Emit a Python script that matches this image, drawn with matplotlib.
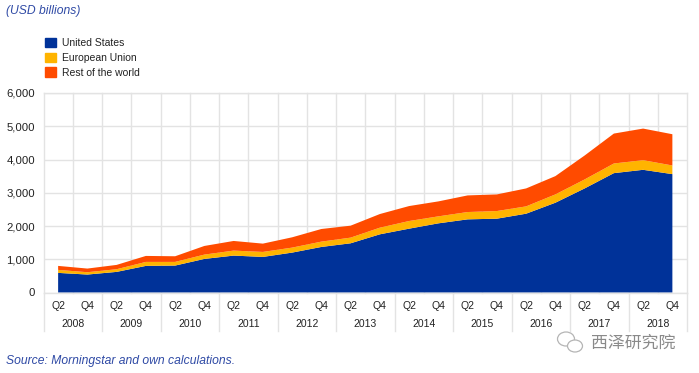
"""Quarterly stacked area of USD billions by region, 2008-2018."""
import matplotlib

matplotlib.use("Agg")
import matplotlib.pyplot as plt
import numpy as np
from matplotlib.patches import Ellipse, Patch

plt.rcParams["font.family"] = ["Liberation Sans", "Noto Sans CJK SC", "DejaVu Sans"]

quarters = ["Q2", "Q4"] * 11
years = ["2008", "2009", "2010", "2011", "2012", "2013", "2014", "2015", "2016", "2017", "2018"]
yticks = [0, 1000, 2000, 3000, 4000, 5000, 6000]

united_states = [590, 540, 620, 800, 810, 1010, 1110, 1070, 1200, 1370, 1480,
                 1750, 1920, 2080, 2200, 2220, 2370, 2700, 3130, 3590, 3690, 3560]
european_union = [90, 70, 80, 120, 110, 130, 150, 150, 150, 160, 170,
                  200, 230, 210, 220, 230, 220, 250, 270, 290, 290, 260]
rest_of_world = [120, 110, 130, 180, 170, 260, 290, 250, 310, 380, 360,
                 410, 450, 450, 500, 500, 540, 550, 720, 900, 950, 940]

BLUE = "#003299"
YELLOW = "#ffb400"
ORANGE = "#ff4b00"
GRID = "#e3e3e3"
NOTE = "#2f4aa5"
W, H = 699, 373

fig = plt.figure(figsize=(W / 100, H / 100), dpi=100)
ax = fig.add_axes([43.5 / W, 1 - 292.5 / H, 643.5 / W, 199.5 / H])

x = np.arange(len(quarters))
ax.stackplot(x, united_states, european_union, rest_of_world,
             colors=[BLUE, YELLOW, ORANGE], linewidth=0, zorder=3)

ax.set_xlim(-0.5, 21.5)
ax.set_ylim(0, 6000)
ax.set_yticks(yticks)
ax.set_yticklabels([f"{v:,}" for v in yticks], fontsize=8.2, color="#222222")
ax.tick_params(axis="y", length=0, pad=6)
ax.set_xticks(x)
ax.set_xticklabels(quarters, fontsize=7.5, color="#222222")
ax.tick_params(axis="x", length=0, pad=6)

for sp in ["top", "right", "left"]:
    ax.spines[sp].set_visible(False)
ax.spines["bottom"].set_color(GRID)
ax.spines["bottom"].set_linewidth(1.0)
ax.spines["bottom"].set_zorder(4)

ax.grid(axis="y", color=GRID, linewidth=1.0, zorder=0)
ax.set_axisbelow(True)
ax.axhline(6000, color=GRID, linewidth=1.0, clip_on=False, zorder=1)

# every category boundary inside the plot, year boundaries run down past the labels
trans = ax.get_xaxis_transform()
for edge in np.arange(-0.5, 22, 1):
    ax.plot([edge, edge], [0, 1], transform=trans, color=GRID, linewidth=1.0,
            clip_on=False, zorder=1)
for edge in np.arange(-0.5, 22, 2):
    ax.plot([edge, edge], [-0.195, 0], transform=trans, color=GRID, linewidth=1.0,
            clip_on=False, zorder=1)

for i, year in enumerate(years):
    ax.text(2 * i + 0.5, -0.158, year, transform=trans, ha="center", va="center",
            fontsize=7.5, color="#222222")

handles = [Patch(color=BLUE), Patch(color=YELLOW), Patch(color=ORANGE)]
fig.legend(handles, ["United States", "European Union", "Rest of the world"],
           loc="upper left", bbox_to_anchor=(42 / W, 1 - 35 / H), frameon=False,
           fontsize=7.5, labelcolor="#222222", handlelength=1.0, handleheight=1.0,
           handletextpad=0.65, labelspacing=0.42, borderpad=0.3, borderaxespad=0)

fig.text(6 / W, 1 - 11 / H, "(USD billions)", style="italic", fontsize=8.7,
         color=NOTE, ha="left", va="center")
fig.text(6 / W, 1 - 361 / H, "Source: Morningstar and own calculations.", style="italic",
         fontsize=8.7, color=NOTE, ha="left", va="center")

# watermark: two speech bubbles and the account name
for cx, cy, w, h in [(566, 339, 17, 14), (575, 346, 15, 12)]:
    fig.add_artist(Ellipse((cx / W, 1 - cy / H), w / W, h / H, transform=fig.transFigure,
                           facecolor="white", edgecolor="#b5b5b5", linewidth=0.9))
fig.text(591 / W, 1 - 343 / H, "西泽研究院", fontsize=12.2, color="#8a8a8a",
         ha="left", va="center")

fig.savefig("out.png", dpi=100)
plt.close(fig)
